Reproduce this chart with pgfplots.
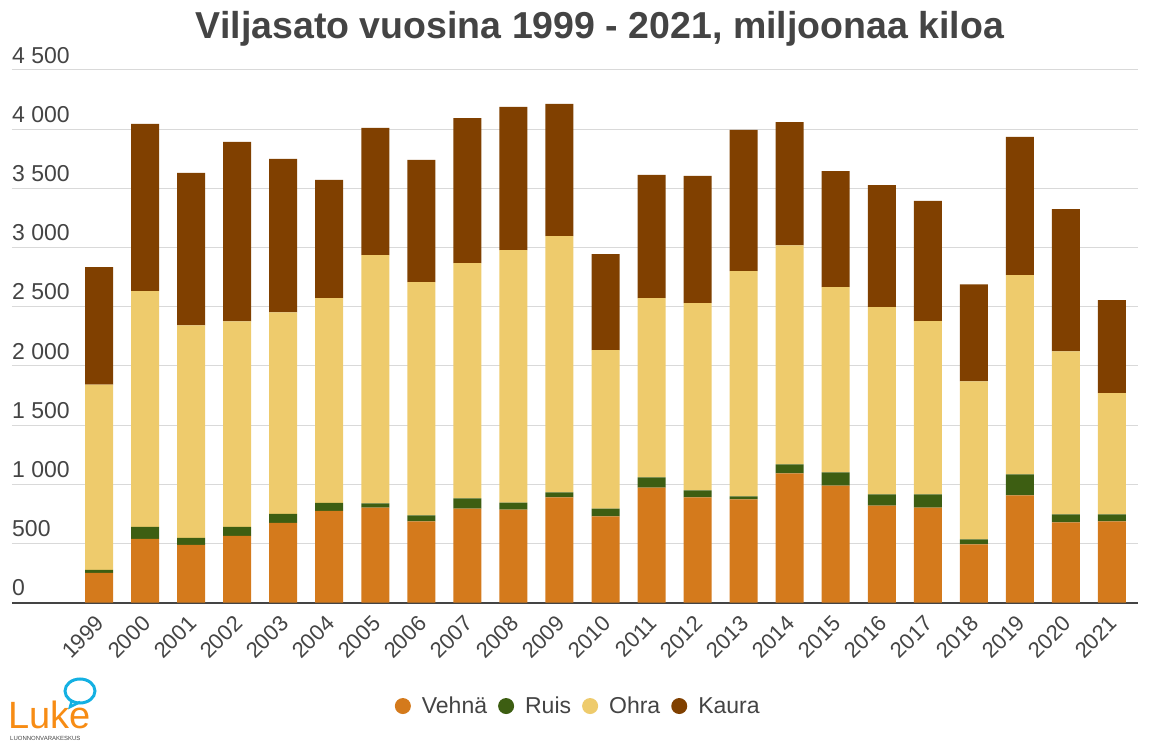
\documentclass[border=0pt]{standalone}
\usepackage{fontspec}
\setmainfont{Liberation Sans}
\usepackage{pgfplots}
\usepackage{pgfplotstable}
\pgfplotsset{compat=1.18}

\definecolor{vehna}{RGB}{212,122,28}
\definecolor{ruis}{RGB}{61,94,18}
\definecolor{ohra}{RGB}{238,203,108}
\definecolor{kaura}{RGB}{128,64,0}
\definecolor{textgray}{RGB}{68,68,68}
\definecolor{gridgray}{RGB}{217,217,217}
\definecolor{lukeorange}{RGB}{247,140,20}
\definecolor{lukeblue}{RGB}{20,176,226}

% miljoonaa kiloa
\pgfplotstableread{
x year vehna ruis ohra kaura
0 1999 251 26 1566 991
1 2000 539 102 1990 1414
2 2001 488 60 1795 1287
3 2002 565 76 1736 1516
4 2003 675 76 1702 1296
5 2004 776 68 1728 999
6 2005 803 35 2098 1075
7 2006 686 52 1969 1033
8 2007 795 86 1987 1226
9 2008 786 60 2133 1209
10 2009 889 43 2164 1118
11 2010 729 66 1338 812
12 2011 972 86 1515 1041
13 2012 889 60 1581 1075
14 2013 872 26 1904 1192
15 2014 1092 77 1850 1041
16 2015 989 112 1564 980
17 2016 821 94 1581 1032
18 2017 803 112 1464 1015
19 2018 492 43 1335 820
20 2019 906 178 1684 1166
21 2020 678 68 1378 1201
22 2021 686 60 1024 786
}\data

\begin{document}
\begin{tikzpicture}[x=1pt,y=1pt]
\useasboundingbox (0,0) rectangle (1152,750);

\begin{axis}[
    at={(12pt,147.3pt)}, anchor=south west,
    scale only axis,
    width=1126pt, height=532.7pt,
    ybar stacked,
    bar width=28pt,
    xmin=-1.89, xmax=22.565,
    ymin=0, ymax=4500,
    enlargelimits=false,
    xtick={0,...,22},
    xticklabels from table={\data}{year},
    ytick={0,500,...,4500},
    axis x line*=bottom,
    axis y line*=left,
    x axis line style={draw=textgray, line width=2pt},
    y axis line style={draw=none},
    major tick length=0pt,
    ymajorgrids,
    grid style={draw=gridgray, line width=1pt},
    /pgf/number format/.cd, 1000 sep={\ }, assume math mode=true,
    /pgfplots/.cd,
    yticklabel style={anchor=south west, inner sep=0pt, yshift=6.5pt,
        font=\fontsize{23}{27}\selectfont, text=textgray},
    xticklabel style={rotate=45, anchor=east, inner sep=0pt, xshift=-11pt, yshift=-13pt,
        font=\fontsize{22}{26}\selectfont, text=textgray},
    legend style={at={(0.502,-0.194)}, anchor=center, draw=none,
        legend columns=4, font=\fontsize{23}{27}\selectfont, text=textgray,
        nodes={inner sep=0pt},
        /tikz/every even column/.append style={column sep=11pt},
        /tikz/every odd column/.append style={column sep=11pt}},
    legend image code/.code={\fill[#1] (8pt,0pt) circle (8pt);},
]
\addplot[fill=vehna, draw=none] table[x=x, y=vehna] {\data};
\addplot[fill=ruis, draw=none] table[x=x, y=ruis] {\data};
\addplot[fill=ohra, draw=none] table[x=x, y=ohra] {\data};
\addplot[fill=kaura, draw=none] table[x=x, y=kaura] {\data};
\legend{Vehnä, Ruis, Ohra, Kaura}
\end{axis}

\node[font=\fontsize{37.5}{42}\selectfont\bfseries, text=textgray] at (600,721) {Viljasato vuosina 1999 - 2021, miljoonaa kiloa};

% logo
\draw[lukeblue, line width=3pt] (80,59) ellipse (15 and 12);
\draw[lukeblue, line width=2.5pt] (72,50) -- (70,43) -- (80,48);
\node[font=\fontsize{38}{40}\selectfont, text=lukeorange, anchor=south west, inner sep=0pt] at (8,21) {Luke};
\node[font=\fontsize{6}{7}\selectfont, text=textgray, anchor=west, inner sep=0pt] at (10,12) {LUONNONVARAKESKUS};
\end{tikzpicture}
\end{document}
